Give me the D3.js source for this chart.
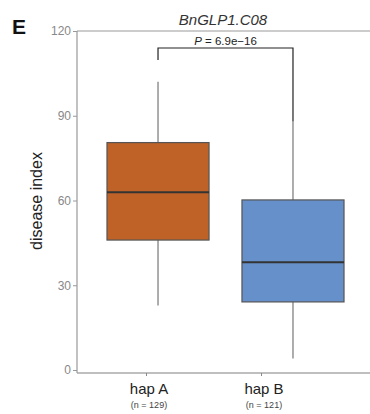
<!DOCTYPE html>
<html><head><meta charset="utf-8">
<script src="https://cdn.jsdelivr.net/npm/d3@7"></script>
<style>body{margin:0;background:#fff}svg{display:block}</style>
</head><body>
<svg id="c" width="370" height="414"></svg>
<script>
const categories = ["hap A", "hap B"];
const counts = ["(n = 129)", "(n = 121)"];
const whiskerLow = [22.8, 4.1];
const q1 = [46.0, 24.1];
const median = [62.9, 38.1];
const q3 = [80.5, 60.2];
const whiskerHigh = [102, 88];
const yTicks = [0, 30, 60, 90, 120];
const title = "BnGLP1.C08";
const pLabel = "6.9e\u221216";
const colors = ["#BF6228", "#6690C9"];

const svg = d3.select("#c");
const y = d3.scaleLinear().domain([0, 120]).range([370, 31]);
const xBox = d3.scaleBand().domain(categories).range([80, 371]).paddingInner(0.244).paddingOuter(0.2);
const xAxisScale = d3.scalePoint().domain(categories).range([146, 261]);
const bw = xBox.bandwidth();
const cx = c => xBox(c) + bw / 2;

// panel lines
svg.append("line").attr("x1", 77).attr("x2", 370).attr("y1", 31).attr("y2", 31).attr("stroke", "#999").attr("stroke-width", 1.2);
svg.append("line").attr("x1", 77).attr("x2", 370).attr("y1", 373).attr("y2", 373).attr("stroke", "#aaa").attr("stroke-width", 1.5);

// y axis
const ya = svg.append("g").attr("transform", "translate(77,0)").call(d3.axisLeft(y).tickValues(yTicks).tickSize(4).tickPadding(2));
ya.select(".domain").attr("stroke", "#999").attr("stroke-width", 1.2).attr("d", "M0,31V373");
ya.selectAll(".tick line").attr("stroke", "#999");
ya.selectAll(".tick text").attr("fill", "#888").attr("font-family", "Liberation Sans, Arial, sans-serif").attr("font-size", 12);

// x axis ticks
const xa = svg.append("g").attr("transform", "translate(0,373)").call(d3.axisBottom(xAxisScale).tickSize(3).tickFormat(""));
xa.select(".domain").remove();
xa.selectAll(".tick line").attr("stroke", "#888");
categories.forEach((c, i) => {
  svg.append("text").attr("x", xAxisScale(c) + 3).attr("y", 394).attr("text-anchor", "middle")
    .attr("font-family", "Liberation Sans, Arial, sans-serif").attr("font-size", 15).attr("fill", "#222").text(c);
  svg.append("text").attr("x", xAxisScale(c) + 3).attr("y", 408).attr("text-anchor", "middle")
    .attr("font-family", "Liberation Sans, Arial, sans-serif").attr("font-size", 9).attr("fill", "#444").text(counts[i]);
});

// boxes
categories.forEach((c, i) => {
  const g = svg.append("g");
  g.append("line").attr("x1", cx(c)).attr("x2", cx(c)).attr("y1", y(whiskerLow[i])).attr("y2", y(q1[i])).attr("stroke", "#777").attr("stroke-width", 1.2);
  g.append("line").attr("x1", cx(c)).attr("x2", cx(c)).attr("y1", y(whiskerHigh[i])).attr("y2", y(q3[i])).attr("stroke", "#777").attr("stroke-width", 1.2);
  g.append("rect").attr("x", xBox(c)).attr("width", bw).attr("y", y(q3[i])).attr("height", y(q1[i]) - y(q3[i]))
    .attr("fill", colors[i]).attr("stroke", "#555").attr("stroke-width", 1.2);
  g.append("line").attr("x1", xBox(c)).attr("x2", xBox(c) + bw).attr("y1", y(median[i])).attr("y2", y(median[i])).attr("stroke", "#333").attr("stroke-width", 2);
});

// significance bracket
const bY = 48;
const x1 = cx(categories[0]), x2 = cx(categories[1]);
svg.append("path").attr("d", `M${x1},60V${bY}H${x2}V${y(whiskerHigh[1])}`).attr("fill", "none").attr("stroke", "#222").attr("stroke-width", 1.2);
const pt = svg.append("text").attr("x", (x1 + x2) / 2).attr("y", 45).attr("text-anchor", "middle")
  .attr("font-family", "Liberation Sans, Arial, sans-serif").attr("font-size", 11.5).attr("fill", "#222");
pt.append("tspan").attr("font-style", "italic").text("P");
pt.append("tspan").text(" = " + pLabel);

// title
svg.append("text").attr("x", 223).attr("y", 25).attr("text-anchor", "middle").attr("font-style", "italic")
  .attr("font-family", "Liberation Sans, Arial, sans-serif").attr("font-size", 15).attr("fill", "#333").text(title);

// panel letter
svg.append("text").attr("x", 12).attr("y", 34).attr("font-weight", "bold")
  .attr("font-family", "Liberation Sans, Arial, sans-serif").attr("font-size", 21).attr("fill", "#111").text("E");

// y label
svg.append("text").attr("transform", "translate(42,201) rotate(-90)").attr("text-anchor", "middle")
  .attr("font-family", "Liberation Sans, Arial, sans-serif").attr("font-size", 16).attr("fill", "#222").text("disease index");
</script>
</body></html>
